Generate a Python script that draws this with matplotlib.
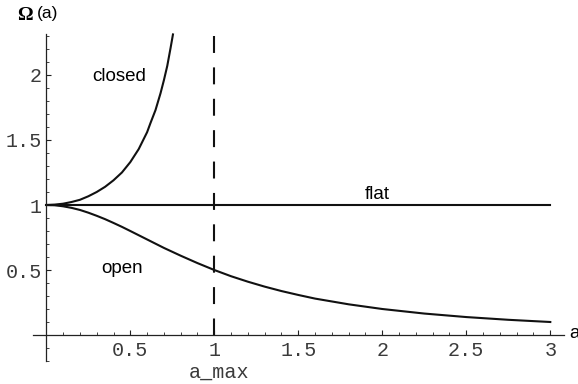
import numpy as np
import matplotlib.pyplot as plt

plt.rcParams['lines.scale_dashes'] = False

# curves
a_closed = [0, 0.05, 0.1, 0.15, 0.2, 0.25, 0.3, 0.35, 0.4, 0.45, 0.5, 0.55, 0.6,
            0.62, 0.65, 0.68, 0.7, 0.72, 0.74, 0.755]
om_closed = [1.0, 1.003, 1.01, 1.023, 1.04, 1.067, 1.10, 1.14, 1.19, 1.25, 1.33,
             1.43, 1.56, 1.63, 1.73, 1.86, 1.96, 2.07, 2.21, 2.32]

a_open = [0, 0.05, 0.1, 0.15, 0.2, 0.25, 0.3, 0.35, 0.4, 0.45, 0.5, 0.6, 0.7, 0.8,
          0.9, 1.0, 1.1, 1.2, 1.3, 1.4, 1.5, 1.6, 1.8, 2.0, 2.25, 2.5, 2.75, 3.0]
om_open = [1.0, 0.998, 0.99, 0.978, 0.962, 0.941, 0.917, 0.891, 0.862, 0.832,
           0.80, 0.735, 0.67, 0.61, 0.553, 0.50, 0.452, 0.41, 0.372, 0.338,
           0.308, 0.28, 0.236, 0.20, 0.165, 0.138, 0.117, 0.10]

a_flat = [0, 3]
om_flat = [1, 1]

a_max = 1.0

xticks = [0.5, 1, 1.5, 2, 2.5, 3]
xlabels = ['0.5', '1', '1.5', '2', '2.5', '3']
yticks = [0.5, 1, 1.5, 2]
ylabels = ['0.5', '1', '1.5', '2']

fig = plt.figure(figsize=(5.78, 3.84), dpi=100)
ax = fig.add_axes([0, 0, 1, 1])
ax.set_xlim(-0.2756, 3.1649)
ax.set_ylim(-0.3769, 2.5769)

lw = 1.5
ax.plot(a_closed, om_closed, color='#111111', lw=lw, solid_capstyle='butt')
ax.plot(a_open, om_open, color='#111111', lw=lw)
ax.plot(a_flat, om_flat, color='#111111', lw=lw)
ax.plot([a_max, a_max], [2.30, -0.015], color='#111111', lw=lw,
        dashes=(12.2, 10.4), dash_capstyle='butt')

# mathematica style axes through the origin
for s in ['top', 'right']:
    ax.spines[s].set_visible(False)
ax.spines['left'].set_position(('data', 0))
ax.spines['bottom'].set_position(('data', 0))
ax.spines['left'].set_bounds(-0.2, 2.315)
ax.spines['bottom'].set_bounds(-0.08, 3.08)
for s in ['left', 'bottom']:
    ax.spines[s].set_linewidth(0.9)
    ax.spines[s].set_color('#222222')

ax.set_xticks(xticks)
ax.set_xticklabels(xlabels)
ax.set_xticks(np.arange(1, 31) / 10, minor=True)
ax.set_yticks(yticks)
ax.set_yticklabels(ylabels)
ax.set_yticks(np.arange(-2, 24) / 10, minor=True)
ax.tick_params(which='major', direction='in', length=3.5, width=0.8,
               color='#222222', labelsize=14.5, labelcolor='#3a3a3a')
ax.tick_params(which='minor', direction='in', length=2, width=0.6, color='#222222')
ax.tick_params(axis='x', which='major', pad=4)
ax.tick_params(axis='y', which='major', pad=3)
for lab in ax.get_xticklabels() + ax.get_yticklabels():
    lab.set_family('Liberation Mono')

sans = 'Liberation Sans'
ax.text(0.276, 1.954, 'closed', family=sans, fontsize=13.5, va='baseline')
ax.text(0.33, 0.479, 'open', family=sans, fontsize=13.5, va='baseline')
ax.text(1.897, 1.05, 'flat', family=sans, fontsize=13.5, va='baseline')
ax.text(3.111, -0.023, 'a', family=sans, fontsize=13.5, va='baseline')
ax.text(1.031, -0.285, 'a_max', family='Liberation Mono', fontsize=14.5,
        color='#3a3a3a', ha='center', va='center')
ax.text(-0.174, 2.423, 'Ω', family='Liberation Serif', fontweight='bold',
        fontsize=14, va='baseline')
ax.text(-0.055, 2.44, '(a)', family=sans, fontsize=12.5, va='baseline')

fig.savefig('out.png', dpi=100)
